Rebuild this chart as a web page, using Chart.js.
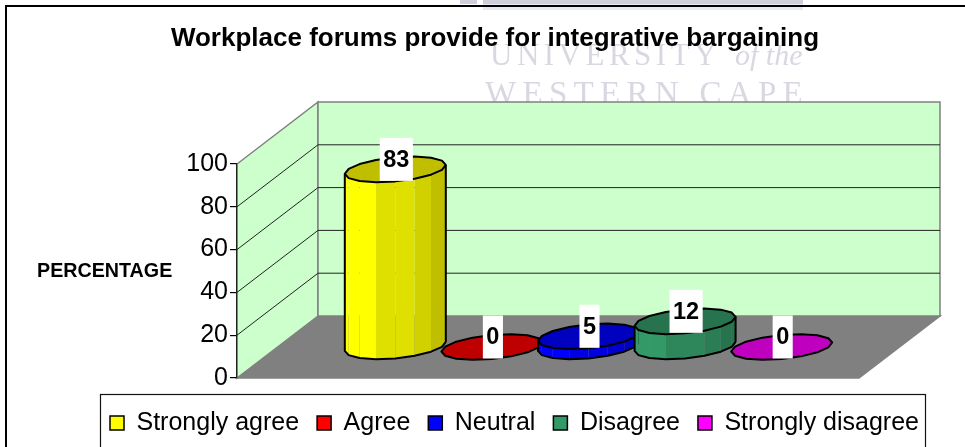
<!DOCTYPE html>
<html><head><meta charset="utf-8">
<style>html,body{margin:0;padding:0;background:#fff;overflow:hidden}canvas{display:block}</style>
<script src="https://cdn.jsdelivr.net/npm/chart.js@4/dist/chart.umd.min.js"></script>
</head><body><canvas id="c" width="965" height="447"></canvas>
<script>
const titleText = "Workplace forums provide for integrative bargaining";
const axisLabel = "PERCENTAGE";
const categories = ["Responses"];
const seriesNames = ["Strongly agree", "Agree", "Neutral", "Disagree", "Strongly disagree"];
const seriesValues = [83, 0, 5, 12, 0];
const seriesColors = ["#ffff00", "#ff0000", "#0000ff", "#339966", "#ff00ff"];
const yTicks = [0, 20, 40, 60, 80, 100];

const FONT = "'Liberation Sans', Arial, sans-serif";
const DX = 81, DY = -62;
function shade(hex, f) {
  const n = parseInt(hex.slice(1), 16);
  return "rgb(" + [(n >> 16) & 255, (n >> 8) & 255, n & 255].map(v => Math.round(v * f)).join(",") + ")";
}
const ring = (cx, cy, a, t) => [cx + a * Math.cos(t), cy + 12 * Math.sin(t) - 4.5 * Math.cos(t)];
const STEPS = 8;

const scene = {
  id: "scene",
  afterLayout(chart) {
    const t = chart.titleBlock, l = chart.legend;
    t.left += 65.5; t.right += 65.5;
    const h = l.bottom - l.top;
    l.left += 85; l.right += 85;
    l.top = 392.5; l.bottom = 392.5 + h;
  },
  beforeDraw(chart) {
    const ctx = chart.ctx, y = chart.scales.y, a = chart.chartArea;
    ctx.save();
    ctx.fillStyle = "#fff"; ctx.fillRect(0, 0, chart.width, chart.height);
    // faint watermark behind the chart
    ctx.fillStyle = "#e8e8f0"; ctx.fillRect(483, 0, 320, 10);
    ctx.fillStyle = "#cfcfdc"; ctx.fillRect(483, 0, 320, 4); ctx.fillRect(460, 0, 17, 4);
    ctx.fillStyle = "#d8d8e2"; ctx.textBaseline = "alphabetic"; ctx.textAlign = "left";
    ctx.font = "31px 'Liberation Serif', serif"; ctx.letterSpacing = "4.5px";
    ctx.fillText("UNIVERSITY", 490, 65);
    ctx.font = "italic 30px 'Liberation Serif', serif"; ctx.letterSpacing = "0px";
    ctx.fillText("of the", 735, 65);
    ctx.font = "33px 'Liberation Serif', serif"; ctx.letterSpacing = "6.3px";
    ctx.fillText("WESTERN CAPE", 485, 104);
    ctx.letterSpacing = "0px";
    // outer frame
    ctx.strokeStyle = "#000"; ctx.lineWidth = 2;
    ctx.beginPath(); ctx.moveTo(6, 447); ctx.lineTo(6, 6); ctx.lineTo(965, 6); ctx.stroke();
    // floor and walls
    const x0 = a.left, x1 = a.right, y0 = y.getPixelForValue(0), yTop = y.getPixelForValue(100);
    ctx.lineWidth = 1.5; ctx.strokeStyle = "#808080";
    ctx.fillStyle = "#808080";
    ctx.beginPath(); ctx.moveTo(x0, y0); ctx.lineTo(x1, y0); ctx.lineTo(x1 + DX, y0 + DY); ctx.lineTo(x0 + DX, y0 + DY); ctx.closePath(); ctx.fill(); ctx.stroke();
    ctx.fillStyle = "#ccffcc";
    ctx.beginPath(); ctx.moveTo(x0, y0); ctx.lineTo(x0 + DX, y0 + DY); ctx.lineTo(x0 + DX, yTop + DY); ctx.lineTo(x0, yTop); ctx.closePath(); ctx.fill(); ctx.stroke();
    ctx.beginPath(); ctx.rect(x0 + DX, yTop + DY, x1 - x0, y0 - yTop); ctx.fill(); ctx.stroke();
    // gridlines
    ctx.lineWidth = 1; ctx.strokeStyle = "#222";
    y.ticks.forEach(k => {
      if (k.value === 0 || k.value === 100) return;
      const p = y.getPixelForValue(k.value);
      ctx.beginPath(); ctx.moveTo(x0, p); ctx.lineTo(x0 + DX, p + DY); ctx.lineTo(x1 + DX, p + DY); ctx.stroke();
    });
    // legend frame
    ctx.strokeStyle = "#111"; ctx.lineWidth = 1.2;
    ctx.strokeRect(100.5, 394.5, 825, 60);
    // axis caption
    ctx.fillStyle = "#000"; ctx.font = "bold 19.7px " + FONT; ctx.textBaseline = "middle"; ctx.textAlign = "left";
    ctx.fillText(axisLabel, 37, 272);
    ctx.restore();
  },
  beforeDatasetsDraw(chart) {
    const ctx = chart.ctx;
    ctx.save();
    ctx.lineJoin = "round";
    chart.data.datasets.forEach((ds, i) => {
      const el = chart.getDatasetMeta(i).data[0];
      const cx = el.x + DX / 2, a = el.width / 2;
      const yb = el.base + DY / 2, yt = el.y + DY / 2;
      const col = ds.backgroundColor;
      if (yb - yt > 0.5) {
        for (let s = 0; s < STEPS; s++) {
          const t0 = Math.PI * s / STEPS, t1 = Math.PI * (s + 1) / STEPS;
          const p0 = ring(cx, yb, a, t0), p1 = ring(cx, yb, a, t1), q1 = ring(cx, yt, a, t1), q0 = ring(cx, yt, a, t0);
          const xf = (Math.cos((t0 + t1) / 2) + 1) / 2;
          ctx.fillStyle = shade(col, xf < 0.35 ? 1 : xf < 0.65 ? 0.88 : xf < 0.88 ? 0.82 : 0.75);
          ctx.beginPath(); ctx.moveTo(...p0); ctx.lineTo(...p1); ctx.lineTo(...q1); ctx.lineTo(...q0); ctx.closePath(); ctx.fill();
        }
        ctx.strokeStyle = "#000"; ctx.lineWidth = 2;
        ctx.beginPath();
        for (let s = 0; s <= STEPS; s++) { const p = ring(cx, yb, a, Math.PI * s / STEPS); s ? ctx.lineTo(...p) : ctx.moveTo(...p); }
        ctx.lineTo(...ring(cx, yt, a, Math.PI));
        ctx.moveTo(...ring(cx, yb, a, 0)); ctx.lineTo(...ring(cx, yt, a, 0));
        ctx.stroke();
      }
      ctx.fillStyle = shade(col, 0.75); ctx.strokeStyle = "#000"; ctx.lineWidth = 2;
      ctx.beginPath();
      for (let s = 0; s < STEPS * 2; s++) { const p = ring(cx, yt, a, Math.PI * s / STEPS); s ? ctx.lineTo(...p) : ctx.moveTo(...p); }
      ctx.closePath(); ctx.fill(); ctx.stroke();
    });
    ctx.restore();
  },
  beforeDatasetDraw() { return false; },
  afterDatasetsDraw(chart) {
    const ctx = chart.ctx;
    ctx.save();
    ctx.font = "bold 23.5px " + FONT; ctx.textAlign = "center"; ctx.textBaseline = "middle";
    chart.data.datasets.forEach((ds, i) => {
      const el = chart.getDatasetMeta(i).data[0];
      const txt = String(ds.data[0]);
      const cx = el.x + DX / 2 + 1, cy = el.y + DY / 2 - 10;
      const w = ctx.measureText(txt).width + 7;
      ctx.fillStyle = "#fff"; ctx.fillRect(cx - w / 2, cy - 21.5, w, 43);
      ctx.fillStyle = "#000"; ctx.fillText(txt, cx, cy + 1);
    });
    ctx.restore();
  }
};

new Chart(document.getElementById("c"), {
  type: "bar",
  data: {
    labels: categories,
    datasets: seriesNames.map((n, i) => ({
      label: n, data: [seriesValues[i]],
      backgroundColor: seriesColors[i], borderColor: "#000", borderWidth: 1.5,
      categoryPercentage: 0.7765, barPercentage: 1.0455
    }))
  },
  plugins: [scene],
  options: {
    responsive: false, animation: false, devicePixelRatio: 1,
    layout: { padding: { left: 0, right: 106, top: 0, bottom: 16 } },
    plugins: {
      title: { display: true, text: titleText, color: "#000",
        font: { family: FONT, size: 26, weight: "bold", lineHeight: 1.2 },
        padding: { top: 23.4, bottom: 109.4 } },
      legend: { position: "bottom",
        labels: { color: "#000", font: { family: FONT, size: 25 }, boxWidth: 14, boxHeight: 14, padding: 18 } },
      tooltip: { enabled: false }
    },
    scales: {
      x: { display: false },
      y: { min: 0, max: 100, afterFit(s) { s.width = 237; },
        afterBuildTicks(s) { s.ticks = yTicks.map(v => ({ value: v })); },
        grid: { drawOnChartArea: false, color: "#000", tickLength: 7, lineWidth: 1.2 },
        border: { color: "#222", width: 1.2 },
        ticks: { color: "#000", padding: 2, font: { family: FONT, size: 25 } } }
    }
  }
});
</script></body></html>
